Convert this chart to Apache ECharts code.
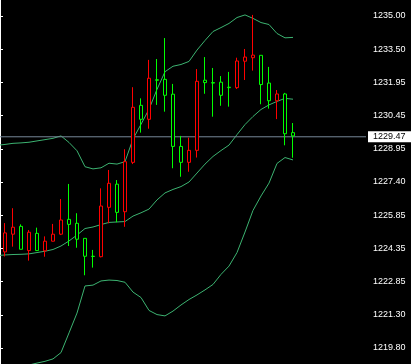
<!DOCTYPE html>
<html><head><meta charset="utf-8">
<script src="https://cdn.jsdelivr.net/npm/echarts@6/dist/echarts.min.js"></script>
<style>html,body{margin:0;padding:0;background:#000;overflow:hidden}#c{width:411px;height:364px}</style>
</head><body><div id="c"></div>
<script>
// bar numbers (first slot is the bar just left of the visible area)
const categories = ['0','1','2','3','4','5','6','7','8','9','10','11','12','13','14','15','16','17','18','19','20','21','22','23','24','25','26','27','28','29','30','31','32','33','34','35','36','37'];
const open  = [null,1225.07,1225.33,1224.32,1225.10,1224.26,1224.69,1225.01,1225.66,1225.46,1224.78,1224.00,1223.99,1226.30,1227.34,1226.01,1228.33,1230.82,1230.27,1232.15,1232.06,1231.37,1229.03,1228.30,1228.85,1232.01,1231.95,1231.93,1231.37,1231.72,1232.94,1233.12,1233.21,1231.86,1231.12,1231.43,1229.61,1229.51];
const close = [null,1224.20,1225.01,1225.37,1224.26,1225.05,1224.25,1224.69,1225.01,1225.69,1225.51,1224.82,1224.00,1223.98,1226.24,1227.30,1226.04,1228.30,1230.91,1230.27,1232.08,1232.10,1231.42,1229.03,1228.30,1228.85,1232.06,1231.95,1231.97,1231.74,1231.72,1232.93,1233.09,1233.20,1231.93,1231.12,1231.43,1229.66];
const low   = [null,1223.99,1224.44,1224.32,1223.80,1224.24,1223.98,1224.68,1224.97,1224.47,1224.39,1223.13,1223.48,1223.95,1225.51,1225.56,1225.35,1228.22,1229.66,1229.84,1230.93,1230.62,1228.03,1227.64,1227.87,1228.52,1231.44,1230.39,1230.89,1230.85,1231.66,1232.07,1232.50,1230.96,1230.76,1230.28,1229.08,1228.51];
const high  = [null,1225.52,1226.20,1225.46,1225.20,1225.31,1224.91,1225.48,1226.62,1227.31,1225.97,1224.82,1224.29,1227.11,1227.95,1227.49,1228.90,1231.74,1231.23,1232.99,1233.03,1233.99,1231.89,1229.51,1229.43,1232.57,1233.12,1232.62,1232.25,1232.44,1233.09,1233.49,1235.05,1233.20,1232.67,1231.61,1231.48,1230.10];
const bbUpper  = [1229.08,1229.12,1229.17,1229.19,1229.22,1229.28,1229.34,1229.40,1229.51,1229.21,1228.83,1228.10,1228.00,1228.05,1228.26,1228.22,1228.33,1229.37,1230.04,1230.73,1231.64,1232.45,1232.70,1232.78,1232.92,1233.44,1233.88,1234.29,1234.47,1234.66,1234.93,1235.05,1234.89,1234.70,1234.61,1234.20,1234.00,1234.02];
const bbMiddle = [1224.03,1224.06,1224.08,1224.09,1224.11,1224.17,1224.23,1224.31,1224.47,1224.70,1224.97,1225.27,1225.34,1225.45,1225.55,1225.57,1225.59,1225.84,1225.99,1226.16,1226.58,1226.90,1227.06,1227.19,1227.40,1227.81,1228.22,1228.57,1228.84,1229.09,1229.57,1230.03,1230.40,1230.72,1230.93,1231.09,1231.23,1231.19];
const bbLower  = [1218.95,1218.96,1218.98,1219.00,1219.02,1219.11,1219.19,1219.30,1219.59,1220.49,1221.40,1222.64,1222.68,1222.87,1222.91,1222.89,1222.81,1222.36,1222.11,1221.52,1221.33,1221.27,1221.49,1221.77,1222.02,1222.23,1222.46,1222.71,1223.17,1223.55,1224.17,1225.11,1226.10,1226.76,1227.35,1228.25,1228.52,1228.41];
const tickLabels = ['1235.00','1233.50','1231.95','1230.45','1228.95','1227.40','1225.85','1224.35','1222.85','1221.30','1219.80'];
const lastPrice = 1229.47;
const priceMin = 1219.0675, priceMax = 1235.7325;

const ohlc = open.map((o, i) => o == null ? ['-','-','-','-'] : [o, close[i], low[i], high[i]]);
const bandColor = '#3cb371';
const chart = echarts.init(document.getElementById('c'), null, {renderer: 'canvas'});
chart.setOption({
  backgroundColor: '#000',
  animation: false,
  grid: [
    {left: -7, top: 0, width: 304, height: 364, outerBoundsMode: 'none'},
    {left: 0, right: 45, top: 16, bottom: 16, outerBoundsMode: 'none'},
    {left: 0, right: 45, top: 0, bottom: 0, outerBoundsMode: 'none'}
  ],
  xAxis: [
    {type: 'category', data: categories, gridIndex: 0, boundaryGap: true, show: false},
    {type: 'value', gridIndex: 1, min: 0, max: 1, show: false},
    {type: 'value', gridIndex: 2, min: 0, max: 1, show: false}
  ],
  yAxis: [
    {type: 'value', gridIndex: 0, min: priceMin, max: priceMax, show: false},
    {type: 'value', gridIndex: 1, min: 0, max: tickLabels.length - 1, interval: 1, position: 'right',
      axisLine: {show: false},
      axisTick: {show: true, inside: false, length: 3, lineStyle: {color: '#fff'}},
      axisLabel: {margin: 7, color: '#fff', fontFamily: 'Liberation Sans', fontSize: 9,
        formatter: v => tickLabels[tickLabels.length - 1 - Math.round(v)]},
      splitLine: {show: false}},
    {type: 'value', gridIndex: 2, min: priceMin, max: priceMax, position: 'right',
      axisLine: {show: true, lineStyle: {color: '#fff', width: 1}},
      axisTick: {show: false}, axisLabel: {show: false}, splitLine: {show: false}}
  ],
  series: [
    {type: 'line', xAxisIndex: 0, yAxisIndex: 0, data: bbUpper, symbol: 'none', lineStyle: {color: bandColor, width: 1}, z: 1},
    {type: 'line', xAxisIndex: 0, yAxisIndex: 0, data: bbMiddle, symbol: 'none', lineStyle: {color: bandColor, width: 1}, z: 1},
    {type: 'line', xAxisIndex: 0, yAxisIndex: 0, data: bbLower, symbol: 'none', lineStyle: {color: bandColor, width: 1}, z: 1},
    {type: 'line', xAxisIndex: 2, yAxisIndex: 2, data: [[0, lastPrice], [1, lastPrice]], symbol: 'none',
      lineStyle: {color: '#778899', width: 1}, z: 2,
      endLabel: {show: true, formatter: () => lastPrice.toFixed(2), distance: 2, color: '#000', backgroundColor: '#fff',
        fontFamily: 'Liberation Sans', fontSize: 9, lineHeight: 10, padding: [1, 8, 0, 5]}},
    {type: 'candlestick', xAxisIndex: 0, yAxisIndex: 0, data: ohlc, barWidth: 4, z: 3,
      itemStyle: {color: '#000', color0: '#000', borderColor: '#00ff00', borderColor0: '#ff0000', borderWidth: 1}}
  ]
});
</script></body></html>
